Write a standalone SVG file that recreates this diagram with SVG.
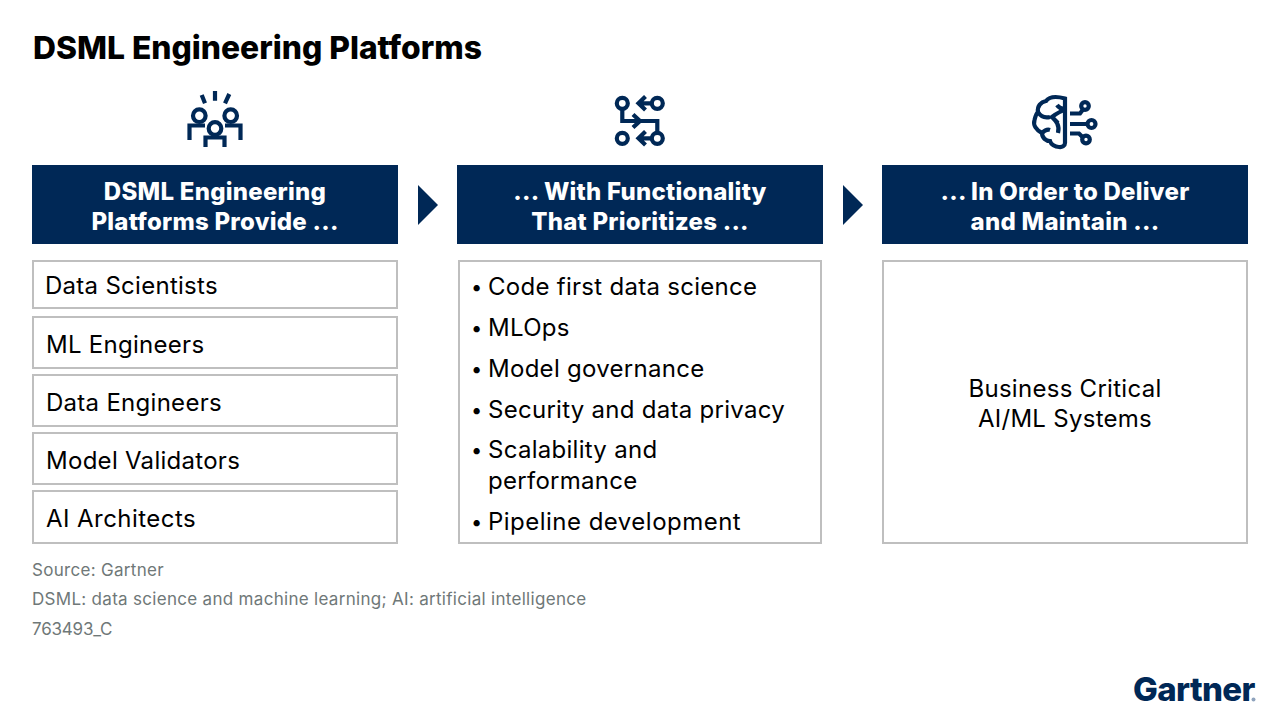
<svg xmlns="http://www.w3.org/2000/svg" width="1280" height="716" viewBox="0 0 1280 716">
<style>
text{font-family:"Inter","Liberation Sans",sans-serif}
.t{font-size:24px;fill:#000;letter-spacing:.28px}
.d{font-size:20px;fill:#000}
.h{font-size:24px;font-weight:800;fill:#fff;text-anchor:middle;letter-spacing:.25px}
.f{font-size:17px;fill:#6f7878;letter-spacing:.3px}
.b{fill:#fff;stroke:#bfbfbf;stroke-width:2}
.n{fill:#002856}
.i{fill:none;stroke:#002856;stroke-width:4.200}
</style>
<rect width="1280" height="716" fill="#fff"/>
<text id="title" x="33" y="58.500" font-size="31.800" font-weight="800" fill="#000">DSML Engineering Platforms</text>
<g id="icon-people" class="i">
<path d="M201.7 95L205 103.3M215 91V100.7M229.3 94L225 103.3"/>
<circle cx="199.3" cy="115.7" r="6.3"/><circle cx="230.7" cy="115.7" r="6.3"/><circle cx="215" cy="128.5" r="6.3"/>
<path d="M189.5 140V125.500H205M240.500 140V125.500H225M205.500 147V137.500H224.500V147"/>
</g>
<g id="icon-flow" class="i">
<circle cx="622.300" cy="103.300" r="5.500"/><circle cx="657.300" cy="103.300" r="5.500"/><circle cx="622.300" cy="138.300" r="5.500"/><circle cx="657.300" cy="138.300" r="5.500"/>
<path d="M651.500 103.300H639M645.500 96.500L638.500 103.300L645.500 110M651.500 138.300H639M645.500 131.500L638.500 138.300L645.500 145M622.300 109V121H657.300V132.500M633 114.500L640 121L633 127.500"/>
</g>
<g id="icon-brain" class="i">
<path d="M1065 98.500V143C1065 146 1062 147.500 1059 147C1055 147 1051 144.500 1050 141C1046 141 1042 138 1042 133C1036 130 1033 125 1034.500 120C1035.500 116 1036.500 113 1038 112C1037 106 1041 102 1046 101C1049 97 1056 96 1065 98.500Z"/>
<path d="M1038 112C1041 117 1046 118 1050 117M1042 133C1045 130 1047 129 1050 130M1065 110C1060 111 1056 114 1052 117C1056 121 1060 125 1058 133M1052 117L1058 123M1057 105C1059 108 1062 109 1065 109"/>
<path d="M1070 113.500H1080L1083 109.500M1070 124H1086M1070 133.500H1079L1082.500 137"/>
<circle cx="1085" cy="106" r="3.800"/><circle cx="1091.500" cy="124" r="4"/><circle cx="1086" cy="139.500" r="3.800"/>
</g>
<g id="connectors" class="n">
<polygon points="418,185 438,205 418,225"/>
<polygon points="843,185 863,205 843,225"/>
</g>
<g id="head-1"><rect class="n" x="32" y="165" width="366" height="79"/>
<text class="h" x="215" y="200">DSML Engineering</text><text class="h" x="215" y="230">Platforms Provide ...</text></g>
<g id="head-2"><rect class="n" x="457" y="165" width="366" height="79"/>
<text class="h" x="640" y="200">... With Functionality</text><text class="h" x="640" y="230">That Prioritizes ...</text></g>
<g id="head-3"><rect class="n" x="882" y="165" width="366" height="79"/>
<text class="h" x="1065" y="200">... In Order to Deliver</text><text class="h" x="1065" y="230">and Maintain ...</text></g>
<g id="role-1"><rect class="b" x="33" y="261" width="364" height="47"/><text class="t" x="45" y="294">Data Scientists</text></g>
<g id="role-2"><rect class="b" x="33" y="317" width="364" height="51"/><text class="t" x="46" y="353">ML Engineers</text></g>
<g id="role-3"><rect class="b" x="33" y="375" width="364" height="51"/><text class="t" x="46" y="411">Data Engineers</text></g>
<g id="role-4"><rect class="b" x="33" y="433" width="364" height="51"/><text class="t" x="46" y="469">Model Validators</text></g>
<g id="role-5"><rect class="b" x="33" y="491" width="364" height="52"/><text class="t" x="46" y="527" style="letter-spacing:.45px">AI Architects</text></g>
<g id="functions"><rect class="b" x="459" y="261" width="362" height="282"/>
<text class="d" x="471" y="294">•</text><text class="t" x="488" y="295">Code first data science</text>
<text class="d" x="471" y="335">•</text><text class="t" x="488" y="336">MLOps</text>
<text class="d" x="471" y="376">•</text><text class="t" x="488" y="377">Model governance</text>
<text class="d" x="471" y="417">•</text><text class="t" x="488" y="418">Security and data privacy</text>
<text class="d" x="471" y="457">•</text><text class="t" x="488" y="458">Scalability and</text><text class="t" x="488" y="489">performance</text>
<text class="d" x="471" y="529">•</text><text class="t" x="488" y="530" style="letter-spacing:.48px">Pipeline development</text></g>
<g id="outcome"><rect class="b" x="883" y="261" width="364" height="282"/>
<text class="t" x="1065" y="397" text-anchor="middle">Business Critical</text><text class="t" x="1065" y="427" text-anchor="middle">AI/ML Systems</text></g>
<g id="notes"><text class="f" x="32" y="576">Source: Gartner</text>
<text class="f" x="32" y="605">DSML: data science and machine learning; AI: artificial intelligence</text>
<text class="f" x="32" y="635" style="letter-spacing:-.2px">763493_C</text></g>
<g id="logo"><text x="1133" y="701" font-size="33" font-weight="800" fill="#002856" letter-spacing="-.6">Gartner</text><circle cx="1253.500" cy="699.500" r="2" fill="#8fa3bd"/></g>
</svg>
